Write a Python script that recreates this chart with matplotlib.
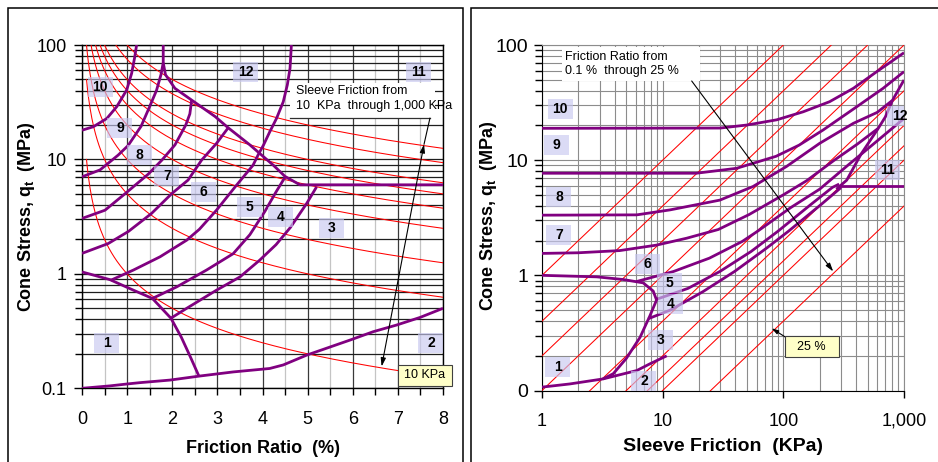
import matplotlib

matplotlib.use("Agg")
import matplotlib.pyplot as plt
import matplotlib.transforms as mtransforms
from matplotlib.patches import Rectangle
from matplotlib.ticker import FixedLocator, NullFormatter
import numpy as np

plt.rcParams["font.family"] = ["Liberation Sans", "DejaVu Sans"]
plt.rcParams["mathtext.fontset"] = "custom"
plt.rcParams["mathtext.rm"] = "Liberation Sans"
plt.rcParams["mathtext.bf"] = "Liberation Sans:bold"

PURPLE = "#800080"
RED = "#ff0000"
BOX_FC = "#c8c8f0"

# ---------------- left chart: friction ratio (%) vs cone stress (MPa) ----------------
FS_LEVELS = [10, 50, 100, 200, 300, 400, 500, 750, 1000]      # iso sleeve friction, kPa
RF_RANGE = (0.1, 8.0)                                          # where the iso lines are drawn

L_BOUND_10_9 = ([0, 0.25, 0.55, 0.77, 0.99, 1.10, 1.17, 1.21],
                [18.0, 19.3, 22.8, 28.9, 40.4, 56.5, 79, 100])
L_BOUND_9_8 = ([0, 0.4, 0.8, 1.02, 1.31, 1.5, 1.65, 1.75, 1.8, 1.8],
               [7.05, 8.1, 10.9, 13.2, 19.5, 29, 40, 55, 70, 100])
L_BOUND_8_7 = ([0, 0.51, 0.95, 1.47, 1.77, 2.06, 2.3, 2.39, 2.43],
               [3.05, 3.6, 5.0, 7.45, 9.86, 13.4, 20, 25, 33])
L_BOUND_7_6 = ([0, 0.58, 1.03, 1.54, 1.99, 2.35, 2.65, 2.98, 3.24],
               [1.51, 1.84, 2.35, 3.37, 5.03, 6.6, 9.86, 13.8, 18.9])
L_BOUND_6_5 = ([0.64, 1.14, 1.73, 2.32, 2.6, 2.98, 3.4, 3.79, 3.9, 4.02, 4.16, 4.31, 4.46, 4.55, 4.61, 4.64],
               [0.88, 1.08, 1.41, 1.97, 2.45, 3.6, 5.8, 8.9, 10.9, 13.3, 17.4, 22.8, 31.9, 44.8, 62.6, 100])
L_BOUND_5_4 = ([1.56, 2.10, 2.76, 3.35, 3.72, 4.05, 4.3, 4.5],
               [0.61, 0.77, 1.08, 1.5, 2.2, 3.5, 5.2, 7.0])
L_BOUND_4_3 = ([1.97, 2.32, 2.98, 3.5, 3.94, 4.3, 4.62, 4.98, 5.2],
               [0.41, 0.50, 0.72, 0.94, 1.32, 1.8, 2.55, 4.13, 5.77])
L_BOUND_12 = ([1.8, 1.85, 2.06, 2.43, 2.95, 3.24, 3.72, 4.24, 4.5, 4.83, 8.0],
              [70, 55, 41.8, 33, 23.7, 18.9, 13.4, 8.9, 7.1, 6.0, 6.0])
L_BOUND_ZONE1 = ([0, 0.62, 1.14, 1.56, 1.97, 2.2, 2.41, 2.59],
                 [1.04, 0.89, 0.72, 0.61, 0.41, 0.28, 0.185, 0.128])
L_BOUND_2 = ([0, 0.62, 0.99, 1.28, 1.95, 2.61, 3.35, 4.16, 4.46, 4.98, 5.42, 5.94, 6.45, 6.97, 7.49, 8.0],
             [0.1, 0.105, 0.109, 0.112, 0.118, 0.128, 0.139, 0.149, 0.160, 0.195, 0.224, 0.264, 0.312,
              0.357, 0.416, 0.50])

L_ZONE_NAMES = ["1", "2", "3", "4", "5", "6", "7", "8", "9", "10", "11", "12"]
L_ZONE_RF = [0.55, 7.73, 5.54, 4.40, 3.71, 2.70, 1.88, 1.28, 0.84, 0.40, 7.46, 3.63]
L_ZONE_QT = [0.25, 0.25, 2.5, 3.16, 3.85, 5.2, 7.2, 10.9, 18.7, 43.3, 58.4, 58.4]

# ---------------- right chart: sleeve friction (kPa) vs cone stress (MPa) ----------------
RF_LEVELS = [0.1, 0.25, 0.5, 1, 2.5, 5, 7.5, 10, 25]          # iso friction ratio, %
FS_RANGE = (1.0, 1000.0)

R_BOUND_10_9 = ([1, 30, 50, 88, 146, 242, 381, 595, 1000],
                [18.9, 19.0, 20.2, 22.4, 26.3, 32.2, 42.1, 58.7, 85.7])
R_BOUND_9_8 = ([1, 19, 41, 87, 135, 214, 404, 670, 1000],
               [7.7, 7.7, 8.5, 10.8, 13.5, 18.3, 29, 42, 58.7])
R_BOUND_8_7 = ([1, 6.1, 11.5, 29.8, 56, 106, 200, 381, 600, 800],
               [3.33, 3.35, 3.7, 4.5, 5.9, 8.8, 14, 20.9, 26, 33])
R_BOUND_7_6 = ([1, 2, 4.4, 8.9, 15.8, 28.9, 52, 100, 155, 261, 411, 612],
               [1.55, 1.57, 1.64, 1.83, 2.1, 2.5, 3.37, 5.0, 6.6, 9.9, 13.8, 18.9])
R_BOUND_6_5 = ([6.0, 12.3, 24.4, 45.7, 61, 115, 200, 337, 535, 1000],
               [0.88, 1.08, 1.41, 1.97, 2.41, 3.87, 5.6, 8.9, 13.3, 23])
R_BOUND_5_4 = ([8.9, 16.2, 29.8, 54, 90, 168, 255, 290],
               [0.62, 0.77, 1.08, 1.61, 2.41, 4.1, 5.8, 6.2])
R_BOUND_4_3 = ([7.6, 11.6, 21.5, 39.4, 73, 110, 206, 300],
               [0.42, 0.5, 0.72, 1.08, 1.73, 2.41, 4.13, 5.77])
R_BOUND_12 = ([275, 335, 441, 612, 700, 802, 931, 1000],
              [5.6, 6.7, 11.3, 18.9, 23.7, 33, 43.6, 49.7])
R_BOUND_11 = ([290, 1000], [6.0, 6.0])
R_BOUND_ZONE1 = ([1, 2.84, 4.7, 6.9, 8.35, 8.9, 7.8, 6.5, 5.0, 3.9, 3.2],
                 [1.0, 0.97, 0.92, 0.86, 0.73, 0.61, 0.44, 0.29, 0.19, 0.14, 0.126])
R_BOUND_2 = ([1, 1.7, 3.2, 6.1, 7.8, 10.8],
             [0.107, 0.114, 0.126, 0.149, 0.17, 0.2])

R_ZONE_NAMES = ["1", "2", "3", "4", "5", "6", "7", "8", "9", "10", "11", "12"]
R_ZONE_FS = [1.35, 7.0, 9.6, 11.7, 11.3, 7.5, 1.38, 1.38, 1.32, 1.41, 723, 920]
R_ZONE_QT = [0.16, 0.12, 0.275, 0.56, 0.86, 1.26, 2.25, 4.8, 13.5, 27.7, 8.2, 24]


def fixed_box(fig, ax, x, y, text, w=25, h=20, fc=BOX_FC, ec="none", alpha=0.65,
              size=10, weight="bold", clip=True):
    """Box of a fixed pixel size centred on a data point, with centred text."""
    trans = fig.dpi_scale_trans + mtransforms.ScaledTranslation(x, y, ax.transData)
    dpi = fig.dpi
    ax.add_patch(Rectangle((-w / 2 / dpi, -h / 2 / dpi), w / dpi, h / dpi, transform=trans,
                           fc=fc, ec=ec, lw=0.8, alpha=alpha, zorder=6, clip_on=clip))
    ax.text(x, y, text, ha="center", va="center", fontsize=size, fontweight=weight,
            zorder=7, clip_on=False)


fig = plt.figure(figsize=(9.38, 4.62), dpi=100)

# panel frames
fig.add_artist(Rectangle((7.5 / 938, -0.05), (463.3 - 7.5) / 938, (462 - 7.5) / 462 + 0.05,
                         transform=fig.transFigure, fill=False, ec="black", lw=1.1))
fig.add_artist(Rectangle((470.5 / 938, -0.05), 0.6, (462 - 7.5) / 462 + 0.05,
                         transform=fig.transFigure, fill=False, ec="black", lw=1.1))

ax_l = fig.add_axes([82 / 938, 73.7 / 462, 361 / 938, 343.3 / 462])
ax_r = fig.add_axes([542 / 938, 71.5 / 462, 362 / 938, 345.5 / 462])

# ---------------- left panel ----------------
ax_l.set_yscale("log")
ax_l.set_xlim(0, 8)
ax_l.set_ylim(0.1, 100)
ax_l.set_xticks(range(9))
ax_l.xaxis.set_minor_locator(FixedLocator(np.arange(0.5, 8, 1.0)))
ax_l.set_yticks([0.1, 1, 10, 100])
ax_l.set_yticklabels(["0.1", "1", "10", "100"])
ax_l.yaxis.set_minor_formatter(NullFormatter())
ax_l.set_axisbelow(True)
ax_l.grid(which="both", axis="y", color="#1e1e1e", lw=0.9)
ax_l.grid(which="major", axis="x", color="#3a3a3a", lw=0.9)
ax_l.grid(which="minor", axis="x", color="#c4c4c4", lw=0.9)
ax_l.tick_params(axis="y", which="major", length=6, width=1, labelsize=13, pad=5)
ax_l.tick_params(axis="y", which="minor", length=5, width=1)
ax_l.tick_params(axis="x", which="both", length=5, width=1, labelsize=13, pad=11)
for sp in ax_l.spines.values():
    sp.set_color("black")
    sp.set_linewidth(1.0)

rf = np.linspace(RF_RANGE[0], RF_RANGE[1], 400)
for fs in FS_LEVELS:
    ax_l.plot(rf, fs / (10.0 * rf), color=RED, lw=0.75, zorder=3)

for bx, by in [L_BOUND_10_9, L_BOUND_9_8, L_BOUND_8_7, L_BOUND_7_6, L_BOUND_6_5, L_BOUND_5_4,
               L_BOUND_4_3, L_BOUND_12, L_BOUND_ZONE1, L_BOUND_2]:
    ax_l.plot(bx, by, color=PURPLE, lw=2.0, zorder=4, solid_capstyle="butt")

for name, x, y in zip(L_ZONE_NAMES, L_ZONE_RF, L_ZONE_QT):
    fixed_box(fig, ax_l, x, y, name)

# annotation: sleeve friction range
ax_l.add_patch(Rectangle((4.61, 22.9), 7.82 - 4.61, 46.6 - 22.9, fc="white", ec="none", zorder=5))
ax_l.plot([4.61, 7.71], [22.9, 22.9], color="#303030", lw=0.9, zorder=5)
ax_l.text(4.74, 34, "Sleeve Friction from\n10  KPa  through 1,000 KPa", fontsize=9,
          ha="left", va="center", linespacing=1.3, zorder=6)
ax_l.plot([7.71, 7.58], [22.9, 13.6], color="black", lw=0.8, zorder=5)
ax_l.annotate("", xy=(7.58, 13.6), xytext=(6.64, 0.155),
              arrowprops=dict(arrowstyle="<|-|>,head_length=0.5,head_width=0.15",
                              color="black", lw=0.8, shrinkA=0, shrinkB=0), zorder=5)
fixed_box(fig, ax_l, 7.6, 0.13, "10 KPa", w=54, h=21, fc="#ffffc8", ec="#404040", alpha=1.0,
          size=9, weight="normal", clip=False)

ax_l.text(-0.155, 0.5, r"Cone Stress, q$_{\mathbf{t}}$  (MPa)", transform=ax_l.transAxes,
          rotation=90, ha="center", va="center", fontsize=13, fontweight="bold")
ax_l.text(0.5, -0.174, "Friction Ratio  (%)", transform=ax_l.transAxes,
          ha="center", va="center", fontsize=13, fontweight="bold")

# ---------------- right panel ----------------
ax_r.set_xscale("log")
ax_r.set_yscale("log")
ax_r.set_xlim(*FS_RANGE)
ax_r.set_ylim(0.1, 100)
ax_r.set_xticks([1, 10, 100, 1000])
ax_r.set_xticklabels(["1", "10", "100", "1,000"])
ax_r.set_yticks([0.1, 1, 10, 100])
ax_r.set_yticklabels(["0", "1", "10", "100"])
ax_r.xaxis.set_minor_formatter(NullFormatter())
ax_r.yaxis.set_minor_formatter(NullFormatter())
ax_r.set_axisbelow(True)
ax_r.grid(which="both", color="#8c8c8c", lw=0.8)
ax_r.tick_params(axis="y", which="major", length=6, width=1, labelsize=14, pad=4)
ax_r.tick_params(axis="y", which="minor", length=5, width=1)
ax_r.tick_params(axis="x", which="major", length=5, width=1, labelsize=13, pad=11)
ax_r.tick_params(axis="x", which="minor", length=0)
for side in ["left", "bottom"]:
    ax_r.spines[side].set_color("black")
for side in ["top", "right"]:
    ax_r.spines[side].set_color("#8c8c8c")

fs_line = np.array(FS_RANGE)
for r in RF_LEVELS:
    ax_r.plot(fs_line, fs_line / (10.0 * r), color=RED, lw=0.75, zorder=3)

for bx, by in [R_BOUND_10_9, R_BOUND_9_8, R_BOUND_8_7, R_BOUND_7_6, R_BOUND_6_5, R_BOUND_5_4,
               R_BOUND_4_3, R_BOUND_12, R_BOUND_11, R_BOUND_ZONE1, R_BOUND_2]:
    ax_r.plot(bx, by, color=PURPLE, lw=2.0, zorder=4, solid_capstyle="butt")

for name, x, y in zip(R_ZONE_NAMES, R_ZONE_FS, R_ZONE_QT):
    fixed_box(fig, ax_r, x, y, name)

ax_r.add_patch(Rectangle((1.46, 48.7), 20.4 - 1.46, 96 - 48.7, fc="white", ec="none", zorder=5))
ax_r.text(1.55, 68.5, "Friction Ratio from\n0.1 %  through 25 %", fontsize=9,
          ha="left", va="center", linespacing=1.3, zorder=6)
ax_r.annotate("", xy=(259, 1.08), xytext=(17.4, 48.7),
              arrowprops=dict(arrowstyle="-|>,head_length=0.5,head_width=0.15",
                              color="black", lw=0.8, shrinkA=0, shrinkB=0), zorder=5)
fixed_box(fig, ax_r, 172, 0.24, "25 %", w=54, h=21, fc="#ffffc8", ec="#404040", alpha=1.0,
          size=9, weight="normal")
ax_r.annotate("", xy=(80, 0.347), xytext=(113, 0.275),
              arrowprops=dict(arrowstyle="-|>,head_length=0.4,head_width=0.12",
                              color="black", lw=0.8, shrinkA=0, shrinkB=0), zorder=5)

ax_r.text(-0.149, 0.506, r"Cone Stress, q$_{\mathbf{t}}$  (MPa)", transform=ax_r.transAxes,
          rotation=90, ha="center", va="center", fontsize=13, fontweight="bold")
ax_r.text(0.5, -0.163, "Sleeve Friction  (KPa)", transform=ax_r.transAxes,
          ha="center", va="center", fontsize=14, fontweight="bold")

fig.savefig("out.png", dpi=100)
